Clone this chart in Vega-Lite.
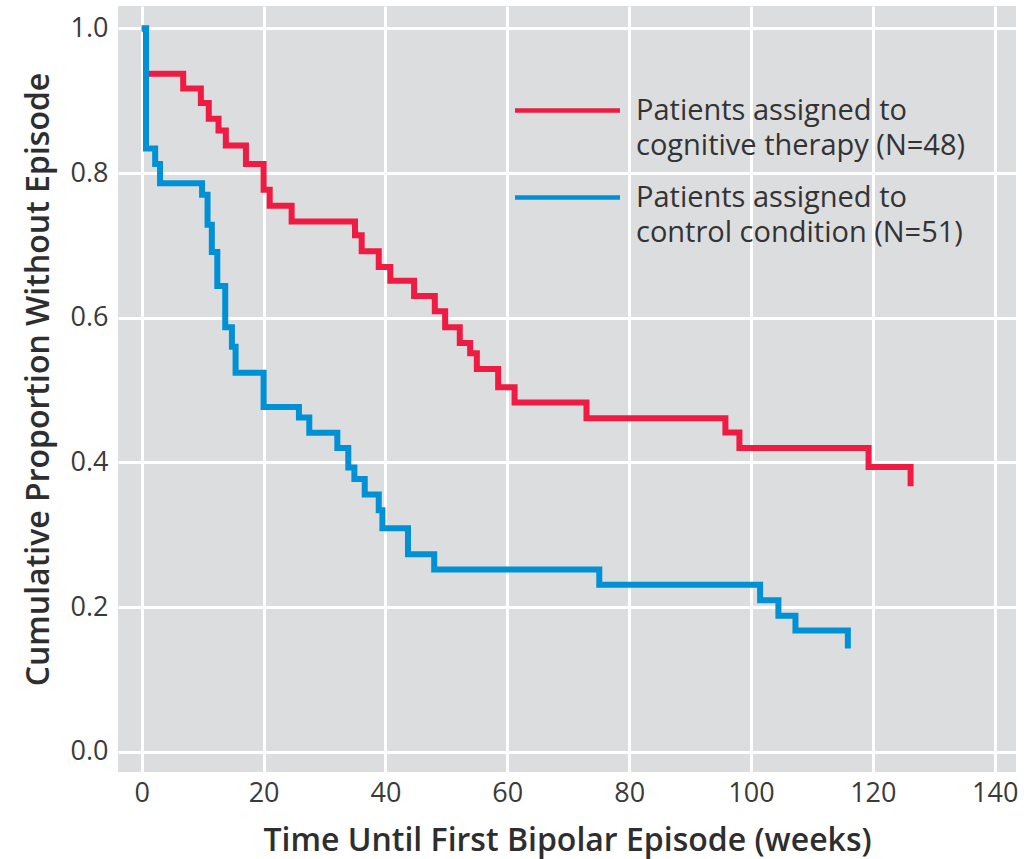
{
  "$schema": "https://vega.github.io/schema/vega-lite/v6.json",
  "width": 898,
  "height": 766,
  "autosize": {"type": "none"},
  "padding": {"left": 118, "top": 6, "right": 12, "bottom": 87},
  "background": "white",
  "config": {
    "font": "Open Sans",
    "view": {"fill": "#dcdddf", "stroke": null},
    "axis": {
      "grid": true,
      "gridColor": "#ffffff",
      "gridWidth": 3,
      "gridOpacity": 1,
      "ticks": false,
      "domain": false,
      "labelFont": "Open Sans",
      "labelFontSize": 27,
      "labelColor": "#3a3a3a",
      "titleFont": "Open Sans",
      "titleFontSize": 32,
      "titleFontWeight": 600,
      "titleColor": "#2e2e2e"
    }
  },
  "data": {
    "values": [
      {"group": "cognitive therapy (N=48)", "time": 0, "value": 1.0},
      {"group": "cognitive therapy (N=48)", "time": 0.7, "value": 0.9375},
      {"group": "cognitive therapy (N=48)", "time": 6.8, "value": 0.917},
      {"group": "cognitive therapy (N=48)", "time": 9.7, "value": 0.897},
      {"group": "cognitive therapy (N=48)", "time": 11.0, "value": 0.875},
      {"group": "cognitive therapy (N=48)", "time": 12.6, "value": 0.859},
      {"group": "cognitive therapy (N=48)", "time": 13.8, "value": 0.838},
      {"group": "cognitive therapy (N=48)", "time": 17.1, "value": 0.8125},
      {"group": "cognitive therapy (N=48)", "time": 20.0, "value": 0.777},
      {"group": "cognitive therapy (N=48)", "time": 21.0, "value": 0.755},
      {"group": "cognitive therapy (N=48)", "time": 24.6, "value": 0.733},
      {"group": "cognitive therapy (N=48)", "time": 35.0, "value": 0.714},
      {"group": "cognitive therapy (N=48)", "time": 36.1, "value": 0.692},
      {"group": "cognitive therapy (N=48)", "time": 38.9, "value": 0.670},
      {"group": "cognitive therapy (N=48)", "time": 40.8, "value": 0.651},
      {"group": "cognitive therapy (N=48)", "time": 44.7, "value": 0.630},
      {"group": "cognitive therapy (N=48)", "time": 48.1, "value": 0.609},
      {"group": "cognitive therapy (N=48)", "time": 49.8, "value": 0.587},
      {"group": "cognitive therapy (N=48)", "time": 52.2, "value": 0.565},
      {"group": "cognitive therapy (N=48)", "time": 53.9, "value": 0.551},
      {"group": "cognitive therapy (N=48)", "time": 55.0, "value": 0.529},
      {"group": "cognitive therapy (N=48)", "time": 58.5, "value": 0.504},
      {"group": "cognitive therapy (N=48)", "time": 61.2, "value": 0.483},
      {"group": "cognitive therapy (N=48)", "time": 73.0, "value": 0.461},
      {"group": "cognitive therapy (N=48)", "time": 95.8, "value": 0.4415},
      {"group": "cognitive therapy (N=48)", "time": 98.1, "value": 0.420},
      {"group": "cognitive therapy (N=48)", "time": 119.3, "value": 0.3935},
      {"group": "cognitive therapy (N=48)", "time": 126.2, "value": 0.367},
      {"group": "control condition (N=51)", "time": 0, "value": 1.0},
      {"group": "control condition (N=51)", "time": 0.7, "value": 0.834},
      {"group": "control condition (N=51)", "time": 2.2, "value": 0.8126},
      {"group": "control condition (N=51)", "time": 3.0, "value": 0.786},
      {"group": "control condition (N=51)", "time": 9.9, "value": 0.770},
      {"group": "control condition (N=51)", "time": 10.8, "value": 0.7286},
      {"group": "control condition (N=51)", "time": 11.5, "value": 0.691},
      {"group": "control condition (N=51)", "time": 12.4, "value": 0.644},
      {"group": "control condition (N=51)", "time": 13.7, "value": 0.587},
      {"group": "control condition (N=51)", "time": 14.8, "value": 0.560},
      {"group": "control condition (N=51)", "time": 15.4, "value": 0.524},
      {"group": "control condition (N=51)", "time": 20.0, "value": 0.4765},
      {"group": "control condition (N=51)", "time": 25.8, "value": 0.462},
      {"group": "control condition (N=51)", "time": 27.5, "value": 0.441},
      {"group": "control condition (N=51)", "time": 32.1, "value": 0.420},
      {"group": "control condition (N=51)", "time": 33.9, "value": 0.393},
      {"group": "control condition (N=51)", "time": 34.9, "value": 0.377},
      {"group": "control condition (N=51)", "time": 36.6, "value": 0.3555},
      {"group": "control condition (N=51)", "time": 38.9, "value": 0.334},
      {"group": "control condition (N=51)", "time": 39.5, "value": 0.309},
      {"group": "control condition (N=51)", "time": 43.7, "value": 0.273},
      {"group": "control condition (N=51)", "time": 48.0, "value": 0.252},
      {"group": "control condition (N=51)", "time": 75.1, "value": 0.231},
      {"group": "control condition (N=51)", "time": 101.5, "value": 0.2095},
      {"group": "control condition (N=51)", "time": 104.5, "value": 0.188},
      {"group": "control condition (N=51)", "time": 107.3, "value": 0.1676},
      {"group": "control condition (N=51)", "time": 115.9, "value": 0.1427}
    ]
  },
  "mark": {"type": "line", "interpolate": "step-after", "strokeWidth": 6, "strokeJoin": "miter", "strokeCap": "butt"},
  "encoding": {
    "x": {
      "field": "time",
      "type": "quantitative",
      "scale": {"domain": [-3.9, 143.5], "nice": false, "zero": false},
      "axis": {"values": [0, 20, 40, 60, 80, 100, 120, 140], "labelPadding": 8, "titlePadding": 19, "title": "Time Until First Bipolar Episode (weeks)"}
    },
    "y": {
      "field": "value",
      "type": "quantitative",
      "scale": {"domain": [-0.028, 1.031], "nice": false, "zero": false},
      "axis": {"values": [0, 0.2, 0.4, 0.6, 0.8, 1.0], "format": ".1f", "labelPadding": 10, "titlePadding": 15, "titleY": 373, "title": "Cumulative Proportion Without Episode"}
    },
    "color": {
      "field": "group",
      "type": "nominal",
      "scale": {"domain": ["cognitive therapy (N=48)", "control condition (N=51)"], "range": ["#ee1b43", "#0091d5"]},
      "legend": {
        "title": null,
        "orient": "none",
        "legendX": 421,
        "legendY": 76,
        "padding": 0,
        "symbolType": "M-2,0H2",
        "symbolSize": 2756,
        "symbolStrokeWidth": 4.5,
        "symbolOpacity": 1,
        "labelOffset": 40,
        "labelFont": "Open Sans",
        "labelFontSize": 29,
        "labelColor": "#333333",
        "labelLimit": 600,
        "labelBaseline": "middle",
        "rowPadding": 8,
        "labelExpr": "['Patients assigned to', datum.label]",
        "encode": {"labels": {"update": {"lineHeight": {"value": 35}}}}
      }
    }
  }
}
